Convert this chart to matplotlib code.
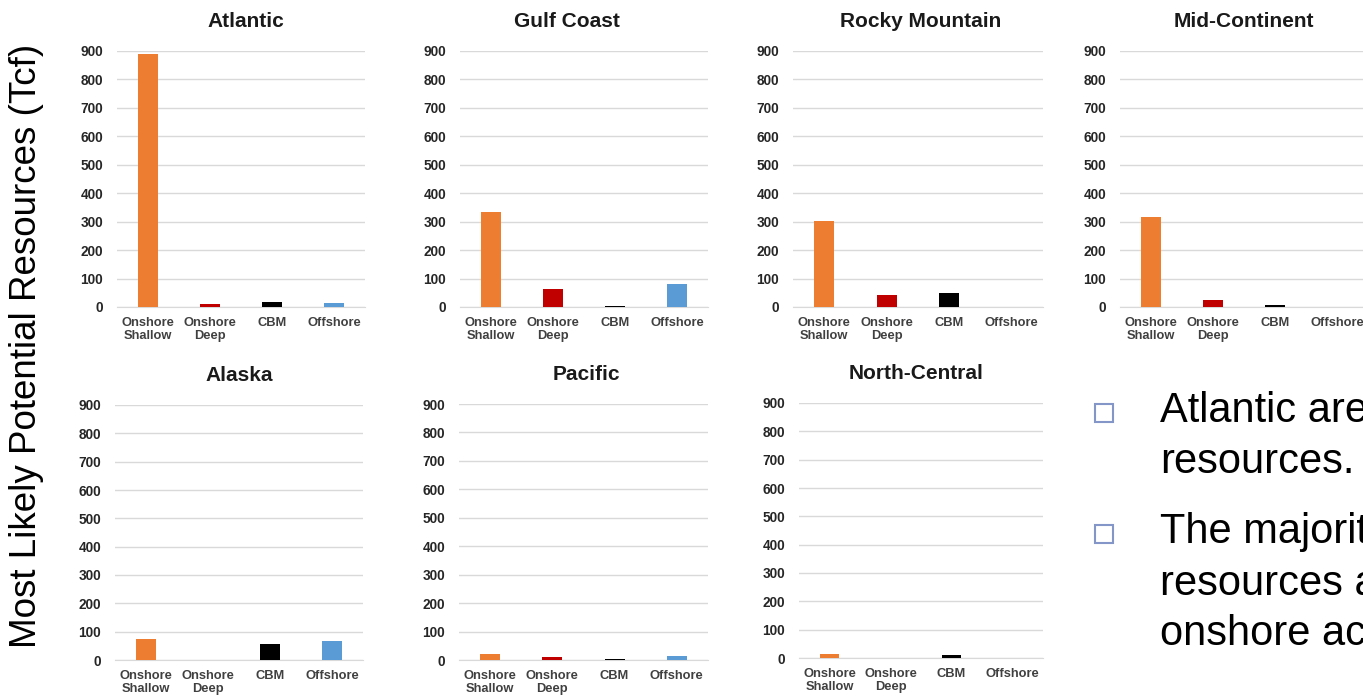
import matplotlib.pyplot as plt
from matplotlib.patches import Rectangle

plt.rcParams['font.family'] = ['Liberation Sans', 'DejaVu Sans']

# Data (Tcf)
categories = ['Onshore\nShallow', 'Onshore\nDeep', 'CBM', 'Offshore']
bar_colors = ['#ED7D31', '#C00000', '#000000', '#5B9BD5']
regions = ['Atlantic', 'Gulf Coast', 'Rocky Mountain', 'Mid-Continent',
           'Alaska', 'Pacific', 'North-Central']
atlantic = [890, 12, 18, 14]
gulf_coast = [335, 63, 4, 80]
rocky_mountain = [303, 42, 50, 0]
mid_continent = [317, 25, 8, 0]
alaska = [74, 0, 57, 67]
pacific = [21, 10, 3, 14]
north_central = [14, 0, 10, 0]
region_values = [atlantic, gulf_coast, rocky_mountain, mid_continent,
                 alaska, pacific, north_central]
y_ticks = list(range(0, 901, 100))

ylabel = 'Most Likely Potential Resources (Tcf)'
bullets = [['Atlantic area has the most', 'resources.'],
           ['The majority of the', 'resources are located in', 'onshore accumulations.']]

# layout in pixels: left, right, y of 900 line, y of 0 line, title x (axes frac)
W, H = 1363, 697
panels = [(117, 365, 51, 307, 0.52), (460, 708, 51, 307, 0.43),
          (793, 1043, 51, 307, 0.51), (1120, 1368, 51, 307, 0.50),
          (115, 363, 405, 660, 0.50), (459, 708, 404, 660, 0.51),
          (799, 1043, 403, 658, 0.48)]

fig = plt.figure(figsize=(W / 100, H / 100), dpi=100)

for name, vals, (l, r, t, b, tx) in zip(regions, region_values, panels):
    ax = fig.add_axes([l / W, 1 - b / H, (r - l) / W, (b - t) / H])
    ax.bar(range(len(categories)), vals, width=0.32, color=bar_colors, zorder=3)
    ax.set_xlim(-0.5, 3.5)
    ax.set_ylim(0, 900)
    ax.set_yticks(y_ticks)
    ax.set_xticks(range(len(categories)))
    ax.set_xticklabels(categories, fontsize=9.3, fontweight='bold', color='#404040',
                       linespacing=1.15)
    for lab in ax.get_yticklabels():
        lab.set_fontsize(9.8)
        lab.set_fontweight('bold')
        lab.set_color('#262626')
    ax.tick_params(axis='y', length=0, pad=10)
    ax.tick_params(axis='x', length=0, pad=7)
    ax.grid(axis='y', color='#d9d9d9', lw=1, zorder=0)
    for s in ['top', 'left', 'right']:
        ax.spines[s].set_visible(False)
    ax.spines['bottom'].set_color('#d9d9d9')
    ax.set_title(name, fontsize=15, fontweight='bold', pad=17, x=tx, color='#1a1a1a')

fig.text(27 / W, 1 - 346 / H, ylabel, rotation=90, fontsize=26.5,
         ha='center', va='center', color='black')

# bullet text on the right (runs past the figure edge, as in the reference)
baselines = [[422, 473], [543, 595, 645]]
for lines, ys in zip(bullets, baselines):
    sq_y = ys[0] - 18
    fig.patches.append(Rectangle((1095 / W, 1 - (sq_y + 18) / H), 18 / W, 18 / H,
                                 transform=fig.transFigure, fill=False,
                                 edgecolor='#8496c8', lw=1.5))
    for line, y in zip(lines, ys):
        fig.text(1160 / W, 1 - y / H, line, fontsize=30, va='baseline', ha='left',
                 color='black')

fig.savefig('out.png', dpi=100)
